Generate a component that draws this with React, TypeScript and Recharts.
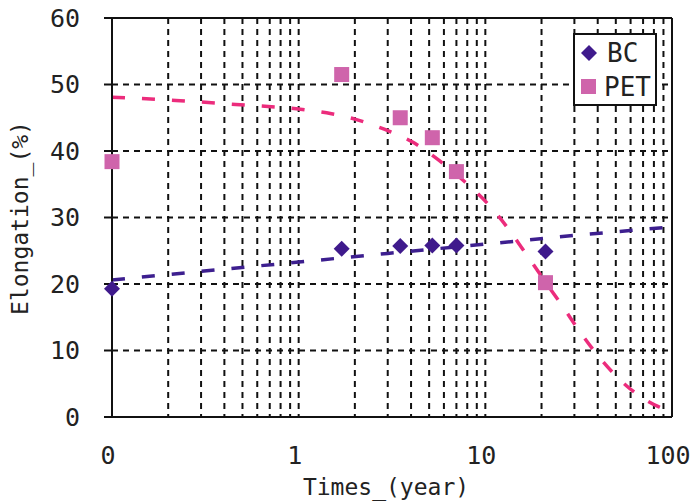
import React from 'react';
import {
  ComposedChart,
  XAxis,
  YAxis,
  CartesianGrid,
  Line,
  Scatter,
  Legend,
  ReferenceLine,
} from 'recharts';

// ---- data ----
const times = [0.1, 1.7, 3.5, 5.2, 7.0, 21];
const bcValues = [19.3, 25.3, 25.7, 25.8, 25.8, 24.9];
const petValues = [38.4, 51.5, 45.0, 42.0, 36.9, 20.2];

const bcTrendTimes = [0.1, 0.3, 1, 3, 10, 30, 100];
const bcTrendValues = [20.6, 21.9, 23.3, 24.6, 26.0, 27.3, 28.6];

const petTrendTimes = [0.1, 0.22, 0.46, 1.0, 1.5, 2.0, 2.8, 4.1, 5.7, 7.6, 10.2, 13.2, 15.9, 20.4, 25.7, 33.3, 41, 57, 84, 100];
const petTrendValues = [48.1, 47.6, 47.0, 46.3, 45.6, 44.8, 43.4, 41.3, 38.5, 35.6, 32.2, 28.4, 25.2, 20.8, 16.8, 12.2, 8.9, 4.7, 1.6, 0.8];

const xTicks = [0.1, 0.2, 0.3, 0.4, 0.5, 0.6, 0.7, 0.8, 0.9, 1, 2, 3, 4, 5, 6, 7, 8, 9, 10, 20, 30, 40, 50, 60, 70, 80, 90, 100];
const xLabels: Record<string, string> = { '0.1': '0', '1': '1', '10': '10', '100': '100' };
const yTicks = [0, 10, 20, 30, 40, 50, 60];

const bcData = times.map((t, i) => ({ x: t, y: bcValues[i] }));
const petData = times.map((t, i) => ({ x: t, y: petValues[i] }));
const bcTrend = bcTrendTimes.map((t, i) => ({ x: t, y: bcTrendValues[i] }));
const petTrend = petTrendTimes.map((t, i) => ({ x: t, y: petTrendValues[i] }));

const FONT = '"DejaVu Sans Mono", monospace';
const BC_COLOR = '#3f1a8c';
const PET_COLOR = '#cf64ab';
const PET_LINE = '#ec2c7c';
const BC_LINE = '#3d1f8f';

const DiamondShape = (props: any) => {
  const { cx, cy } = props;
  if (cx == null || cy == null) return null;
  const r = 8;
  return (
    <polygon
      points={`${cx},${cy - r} ${cx + r},${cy} ${cx},${cy + r} ${cx - r},${cy}`}
      fill={BC_COLOR}
    />
  );
};

const SquareShape = (props: any) => {
  const { cx, cy } = props;
  if (cx == null || cy == null) return null;
  const r = 7.5;
  return <rect x={cx - r} y={cy - r} width={2 * r} height={2 * r} fill={PET_COLOR} />;
};

const XTick = (props: any) => {
  const { x, y, payload } = props;
  const label = xLabels[String(payload.value)];
  if (!label) return null;
  return (
    <text x={x - 4} y={y + 45} textAnchor="middle" fontFamily={FONT} fontSize={25} fill="#222">
      {label}
    </text>
  );
};

const renderLegend = () => (
  <div
    style={{
      border: '2px solid #111',
      background: '#fff',
      width: 80,
      height: 69,
      boxSizing: 'content-box',
      fontFamily: FONT,
      fontSize: 26,
      color: '#222',
    }}
  >
    <div style={{ display: 'flex', alignItems: 'center', height: 35, paddingLeft: 5 }}>
      <svg width={18} height={18} style={{ marginRight: 9 }}>
        <polygon points="9,1 17,9 9,17 1,9" fill={BC_COLOR} />
      </svg>
      <span style={{ lineHeight: '26px' }}>BC</span>
    </div>
    <div style={{ display: 'flex', alignItems: 'center', height: 34, paddingLeft: 6 }}>
      <svg width={16} height={16} style={{ marginRight: 7 }}>
        <rect x={0} y={0} width={15} height={15} fill={PET_COLOR} />
      </svg>
      <span style={{ lineHeight: '26px' }}>PET</span>
    </div>
  </div>
);

const YLabel = () => (
  <text
    x={28}
    y={218}
    transform="rotate(-90, 28, 218)"
    textAnchor="middle"
    fontFamily={FONT}
    fontSize={23}
    fill="#222"
  >
    Elongation_(%)
  </text>
);

const XLabel = (props: any) => {
  const vb = props.viewBox || {};
  const cx = (vb.x ?? 112) + (vb.width ?? 560) / 2 - 6;
  return (
    <text x={cx} y={495} textAnchor="middle" fontFamily={FONT} fontSize={23} fill="#222">
      Times_(year)
    </text>
  );
};

const gridLineProps = { stroke: '#111', strokeWidth: 2, strokeDasharray: '6 5' };

export default function App() {
  return (
    <div style={{ position: 'absolute', left: 0, top: 0, width: 692, height: 501, background: '#fff' }}>
      <ComposedChart width={692} height={501} margin={{ top: 18, right: 20, left: 0, bottom: 0 }}>
        <CartesianGrid
          stroke="#111"
          strokeWidth={2}
          strokeDasharray="6 5"
          horizontal={gridLineProps}
          vertical={gridLineProps}
        />
        <XAxis
          dataKey="x"
          type="number"
          scale="log"
          domain={[0.1, 100]}
          ticks={xTicks}
          height={84}
          tick={<XTick />}
          tickLine={false}
          tickSize={0}
          axisLine={{ stroke: '#111', strokeWidth: 2 }}
          interval={0}
          label={<XLabel />}
        />
        <YAxis
          dataKey="y"
          type="number"
          domain={[0, 60]}
          ticks={yTicks}
          width={112}
          tickSize={8}
          tickMargin={24}
          tickLine={{ stroke: '#111', strokeWidth: 2 }}
          axisLine={{ stroke: '#111', strokeWidth: 2 }}
          tick={{ fontFamily: FONT, fontSize: 25, fill: '#222' }}
          label={<YLabel />}
        />
        <ReferenceLine y={60} stroke="#111" strokeWidth={2} />
        <ReferenceLine x={100} stroke="#111" strokeWidth={2} />
        <Scatter name="BC" data={bcData} fill={BC_COLOR} shape={<DiamondShape />} isAnimationActive={false} />
        <Scatter name="PET" data={petData} fill={PET_COLOR} shape={<SquareShape />} isAnimationActive={false} />
        <Line
          data={bcTrend}
          dataKey="y"
          type="linear"
          stroke={BC_LINE}
          strokeWidth={3.5}
          strokeDasharray="13 17"
          dot={false}
          activeDot={false}
          legendType="none"
          isAnimationActive={false}
        />
        <Line
          data={petTrend}
          dataKey="y"
          type="monotone"
          stroke={PET_LINE}
          strokeWidth={3.5}
          strokeDasharray="13 17"
          dot={false}
          activeDot={false}
          legendType="none"
          isAnimationActive={false}
        />
        <Legend
          layout="horizontal"
          verticalAlign="middle"
          align="center"
          content={renderLegend}
          wrapperStyle={{ left: 573, top: 33, width: 84, height: 73 }}
        />
      </ComposedChart>
    </div>
  );
}
